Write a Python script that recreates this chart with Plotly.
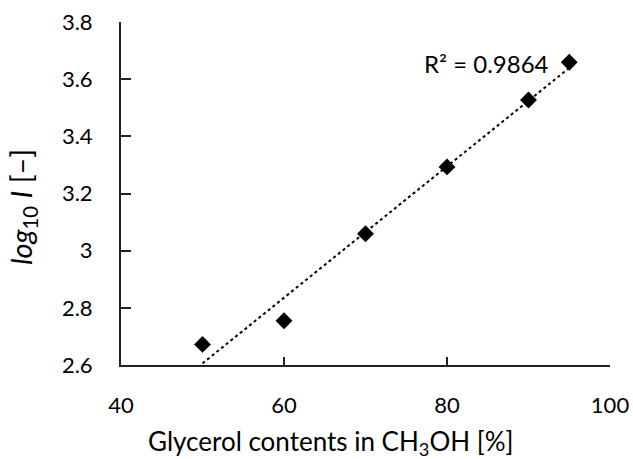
import numpy as np
import plotly.graph_objects as go

glycerol_pct = [50, 60, 70, 80, 90, 95]
log10_I = [2.672, 2.755, 3.059, 3.293, 3.527, 3.659]
r2_label = "R² = 0.9864"
x_title = "Glycerol contents in CH<sub>3</sub>OH [%]"
y_title = "<i>log</i><sub>10</sub> <i>I</i> [–]"

xs = np.array(glycerol_pct, dtype=float)
ys = np.array(log10_I, dtype=float)
slope, intercept = np.polyfit(xs, ys, 1)
fit_x = [xs.min(), xs.max()]
fit_y = [slope * v + intercept for v in fit_x]

FONT = "Lato"
fig = go.Figure()
fig.add_trace(go.Scatter(x=fit_x, y=fit_y, mode="lines",
                         line=dict(color="black", width=2, dash="dot"),
                         showlegend=False, hoverinfo="skip"))
fig.add_trace(go.Scatter(x=glycerol_pct, y=log10_I, mode="markers",
                         marker=dict(symbol="diamond", size=13, color="black"),
                         showlegend=False, cliponaxis=False))

L, R, T, B = 121, 23, 22, 94
W, H = 633, 459
fig.update_layout(
    width=W, height=H,
    margin=dict(l=L, r=R, t=T, b=B, autoexpand=False),
    paper_bgcolor="white", plot_bgcolor="white",
    font=dict(family=FONT, size=22, color="black"),
    xaxis=dict(range=[40, 100], dtick=20, tick0=40, showgrid=False, zeroline=False,
               showline=True, linecolor="#222", linewidth=2,
               ticks="inside", ticklen=8, tickwidth=2, tickcolor="#222",
               ticklabelstandoff=20, automargin=False),
    yaxis=dict(range=[2.6, 3.8], dtick=0.2, tick0=2.6, showgrid=False, zeroline=False,
               showline=True, linecolor="#222", linewidth=2,
               ticks="inside", ticklen=10, tickwidth=2, tickcolor="#222",
               ticklabelstandoff=22, automargin=False),
)
pw, ph = W - L - R, H - T - B
def px(x, y):
    return (x - L) / pw, 1 - (y - T) / ph
ann = [
    (x_title, 330, 442, 0, 26),
    (y_title, 22, 207, -90, 29),
    (r2_label, 486, 63, 0, 24),
]
for text, x, y, ang, sz in ann:
    ax, ay = px(x, y)
    fig.add_annotation(text=text, x=ax, y=ay, xref="paper", yref="paper",
                       showarrow=False, textangle=ang, xanchor="center", yanchor="middle",
                       font=dict(size=sz, family=FONT, color="black"))

fig.write_html("out.html", config={"displayModeBar": False},
               post_script="document.body.style.margin='0';document.body.style.padding='0';")
